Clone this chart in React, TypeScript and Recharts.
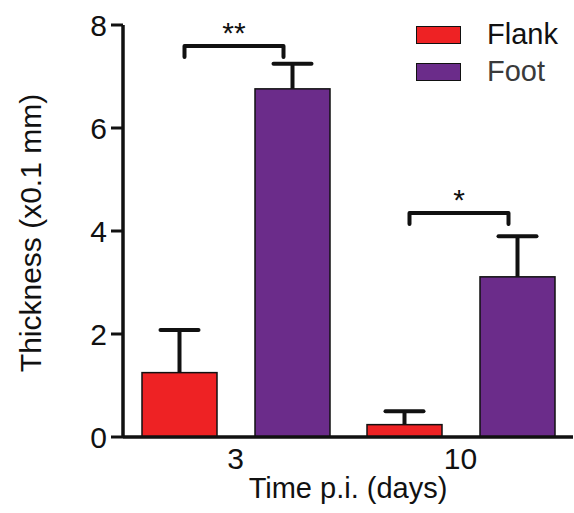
import * as React from "react";
import { Bar, BarChart, Legend, XAxis, YAxis } from "recharts";

// Flank = red, Foot = purple; error bars point up only (mean + SEM).
const RED = "#EE2224";
const PURPLE = "#6B2C8A";
const INK = "#111111";
const FONT = "'Liberation Sans', Arial, Helvetica, sans-serif";

const categories = ["3", "10"];
const flank = [1.25, 0.24];
const foot = [6.76, 3.11];
const flankErr = [0.83, 0.26];
const footErr = [0.49, 0.79];
const sigText = ["**", "*"];
const sigLevel = [7.59, 4.35];
const yTicks = [0, 2, 4, 6, 8];

const BAR_SIZE = 75;
const BAR_GAP = 38;

const data = categories.map((day, i) => ({
  day,
  flank: flank[i],
  foot: foot[i],
  flankErr: flankErr[i],
  footErr: footErr[i],
  sig: sigText[i],
  sigLevel: sigLevel[i],
}));

/** Bar rect + upward error bar; foot bars also carry the significance bracket. */
function ErrBar(props: any) {
  const { x, y, width, height, fill, payload, valKey, errKey, bracket } = props;
  const v = payload[valKey];
  const ppu = height / v; // px per unit, straight from the bar's own scale
  const base = y + height;
  const cx = x + width / 2;
  const top = y - payload[errKey] * ppu;
  let br = null;
  if (bracket && payload.sig) {
    const by = base - payload.sigLevel * ppu;
    const x1 = cx - (width + BAR_GAP) + 5;
    const x2 = cx - 9;
    br = (
      <g>
        <path d={`M${x1},${by + 11} V${by} H${x2} V${by + 11}`} fill="none" stroke={INK} strokeWidth={4} strokeLinecap="round" strokeLinejoin="round" />
        <text x={(x1 + x2) / 2} y={by - 3} textAnchor="middle" fontSize={30} fontFamily={FONT} fill={INK}>
          {payload.sig}
        </text>
      </g>
    );
  }
  return (
    <g>
      <line x1={cx} y1={y} x2={cx} y2={top} stroke={INK} strokeWidth={4} />
      <line x1={cx - 19} y1={top} x2={cx + 19} y2={top} stroke={INK} strokeWidth={4} strokeLinecap="round" />
      <rect x={x} y={y} width={width} height={height} fill={fill} stroke={INK} strokeWidth={1.5} />
      {br}
    </g>
  );
}

function LegendBox({ payload }: any) {
  return (
    <div style={{ fontFamily: FONT }}>
      {(payload || []).map((p: any, i: number) => (
        <div key={p.value} style={{ display: "flex", alignItems: "center", height: 37 }}>
          <div style={{ width: 43, height: 16, background: p.color, border: `1.5px solid ${INK}`, marginRight: 26 }} />
          <span style={{ fontSize: 29, color: i === 0 ? "#111" : "#3a3a3a", lineHeight: 1 }}>{p.value}</span>
        </div>
      ))}
    </div>
  );
}

export default function App() {
  return (
    <div style={{ position: "absolute", left: 0, top: 0, width: 574, height: 513, background: "#fff" }}>
      <BarChart width={574} height={513} data={data} margin={{ top: 25, right: 1, bottom: 0, left: 0 }} barSize={BAR_SIZE} barGap={BAR_GAP}>
        <XAxis
          dataKey="day"
          height={76}
          tickLine={false}
          tickSize={0}
          tickMargin={11}
          axisLine={{ stroke: INK, strokeWidth: 3.5 }}
          tick={{ fill: INK, fontSize: 30, fontFamily: FONT }}
          label={{
            content: (p: any) => (
              <text x={p.viewBox.x + p.viewBox.width / 2} y={p.viewBox.y + 61} textAnchor="middle" fontSize={29} fontFamily={FONT} fill={INK}>
                Time p.i. (days)
              </text>
            ),
          }}
        />
        <YAxis
          width={123}
          domain={[0, 8]}
          ticks={yTicks}
          tickSize={12}
          tickMargin={4}
          tickLine={{ stroke: INK, strokeWidth: 3 }}
          axisLine={{ stroke: INK, strokeWidth: 3.5 }}
          tick={{ fill: INK, fontSize: 30, fontFamily: FONT }}
          label={{
            content: (p: any) => {
              const cy = p.viewBox.y + p.viewBox.height / 2 + 2;
              return (
                <text x={30} y={cy} transform={`rotate(-90 30 ${cy})`} textAnchor="middle" dominantBaseline="central" fontSize={30} fontFamily={FONT} fill={INK}>
                  Thickness (x0.1 mm)
                </text>
              );
            },
          }}
        />
        <Legend layout="vertical" align="center" verticalAlign="middle" content={<LegendBox />} wrapperStyle={{ top: 16, left: 416, width: 158 }} />
        <Bar name="Flank" dataKey="flank" fill={RED} isAnimationActive={false} shape={(p: any) => <ErrBar {...p} valKey="flank" errKey="flankErr" />} />
        <Bar name="Foot" dataKey="foot" fill={PURPLE} isAnimationActive={false} shape={(p: any) => <ErrBar {...p} valKey="foot" errKey="footErr" bracket />} />
      </BarChart>
    </div>
  );
}
